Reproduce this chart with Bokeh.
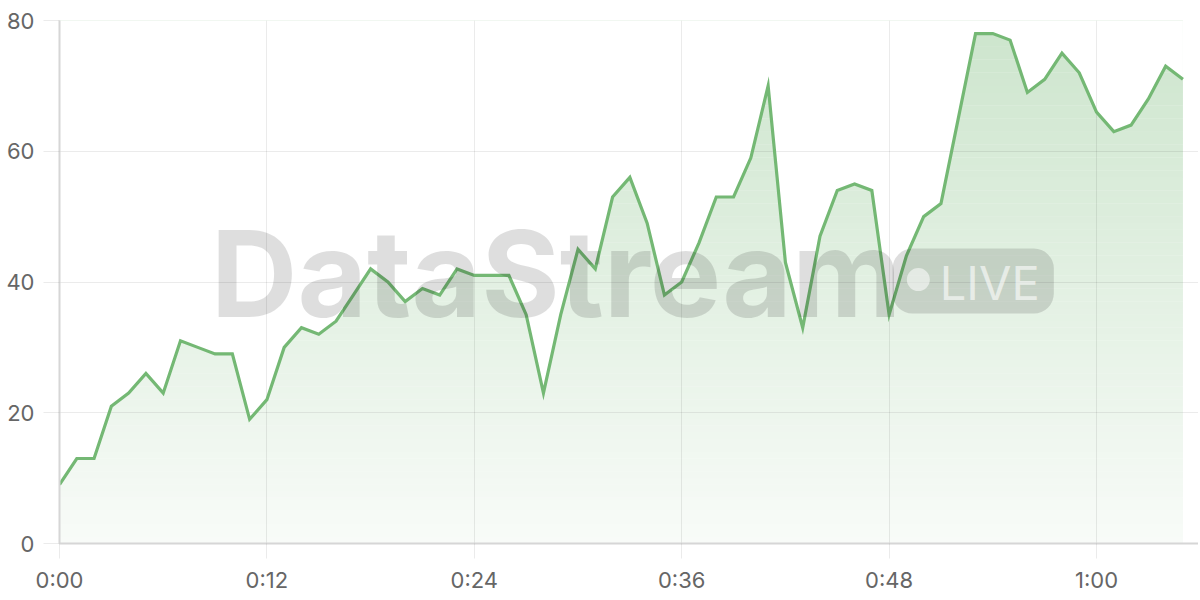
import numpy as np
from bokeh.plotting import figure
from bokeh.models import Range1d, FixedTicker, Label
from bokeh.embed import file_html
from bokeh.resources import INLINE

# ---- data ----
seconds = list(range(66))
values = [9, 13, 13, 21, 23, 26, 23, 31, 30, 29, 29, 19, 22, 30, 33, 32, 34, 38, 42, 40,
          37, 39, 38, 42, 41, 41, 41, 35, 23, 35, 45, 42, 53, 56, 49, 38, 40, 46, 53, 53,
          59, 70, 43, 33, 47, 54, 55, 54, 35, 44, 50, 52, 65, 78, 78, 77, 69, 71, 75, 72,
          66, 63, 64, 68, 73, 71]
x_ticks = [0, 12, 24, 36, 48, 60]
x_tick_labels = ["0:00", "0:12", "0:24", "0:36", "0:48", "1:00"]
y_ticks = [0, 20, 40, 60, 80]
watermark_text = "DataStream"
badge_text = "LIVE"

LINE = "#74b874"
FONT = "Inter"
Y_MAX = 80

p = figure(width=1198, height=598,
           x_range=Range1d(0, 65.9), y_range=Range1d(0, Y_MAX),
           output_backend="svg", toolbar_location=None,
           min_border_left=59, min_border_right=0,
           min_border_top=20, min_border_bottom=55,
           background_fill_color="white", border_fill_color="white",
           outline_line_color=None)

# ---- gradient fill under the line (bands + white mask above the line) ----
n_bands = 80
band_bottoms = np.linspace(0, Y_MAX, n_bands + 1)[:-1]
band_tops = band_bottoms + Y_MAX / n_bands * 1.05
rgb = (118, 184, 118)
band_colors = []
for b in band_bottoms:
    t = (b + Y_MAX / n_bands / 2) / Y_MAX
    a = 0.05 + (0.37 - 0.05) * t
    c = tuple(int(round(255 - a * (255 - ch))) for ch in rgb)
    band_colors.append("#%02x%02x%02x" % c)
p.quad(left=seconds[0], right=seconds[-1], bottom=band_bottoms, top=band_tops,
       fill_color=band_colors, line_color=None, level="image")
p.varea(x=seconds, y1=values, y2=Y_MAX, fill_color="white", level="image")

# ---- line ----
p.line(seconds, values, line_color=LINE, line_width=3.2, line_join="miter")

# ---- axes ----
p.xaxis.ticker = FixedTicker(ticks=x_ticks)
p.xaxis.major_label_overrides = dict(zip(x_ticks, x_tick_labels))
p.yaxis.ticker = FixedTicker(ticks=y_ticks)
for ax in (p.xaxis, p.yaxis):
    ax.major_tick_in = 0
    ax.major_tick_line_color = "black"
    ax.major_tick_line_alpha = 0.08
    ax.minor_tick_line_color = None
    ax.axis_line_color = "#d6d6d6"
    ax.axis_line_width = 2
    ax.major_label_text_font = FONT
    ax.major_label_text_font_size = "22px"
    ax.major_label_text_color = "#666666"
p.xaxis.major_tick_out = 15
p.xaxis.major_label_standoff = 8
p.yaxis.major_tick_out = 16
p.yaxis.major_label_standoff = 9

p.grid.grid_line_color = "black"
p.grid.grid_line_alpha = 0.08
p.grid.grid_line_width = 1

# ---- watermark ----
p.add_layout(Label(x=8.75, y=41.3, text=watermark_text, text_font=FONT,
                   text_font_size="120px", text_font_style="bold",
                   text_color="black", text_alpha=0.13,
                   text_baseline="alphabetic", text_align="left"))
p.quad(left=48.2, right=57.53, bottom=35.18, top=45.12, fill_color="black",
       fill_alpha=0.13, line_color=None, border_radius=20)
p.scatter(x=[49.69], y=[40.38], size=23, fill_color="white", fill_alpha=0.55,
          line_color=None)
p.add_layout(Label(x=50.93, y=40.0, text=badge_text, text_font=FONT,
                   text_font_size="47px", text_color="white", text_alpha=0.6,
                   text_baseline="alphabetic", text_align="left"))

open("out.html", "w").write(file_html(p, INLINE))
